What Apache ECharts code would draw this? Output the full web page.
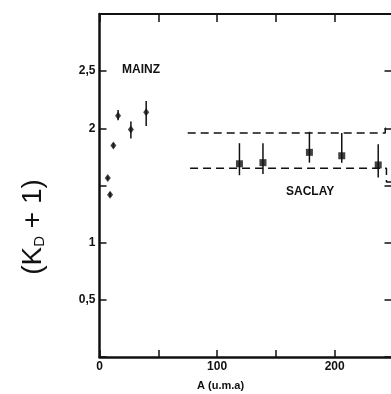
<!DOCTYPE html>
<html>
<head>
<meta charset="utf-8">
<script src="https://cdn.jsdelivr.net/npm/echarts@6/dist/echarts.min.js"></script>
<style>
  html, body { margin: 0; padding: 0; background: #fff; }
  #chart { width: 391px; height: 394px; }
</style>
</head>
<body>
<div id="chart"></div>
<script>
// MAINZ points
const mainzA = [7, 9, 11.8, 15.8, 26.7, 39.7];
const mainzK = [1.565, 1.42, 1.85, 2.11, 1.99, 2.14];
const mainzLow = [1.55, 1.40, 1.83, 2.07, 1.91, 2.02];
const mainzHigh = [1.58, 1.44, 1.87, 2.16, 2.06, 2.24];

// SACLAY points
const saclayA = [119, 139, 178.5, 206, 237];
const saclayK = [1.69, 1.70, 1.79, 1.76, 1.68];
const saclayLow = [1.59, 1.60, 1.70, 1.70, 1.57];
const saclayHigh = [1.87, 1.87, 1.97, 1.96, 1.86];

// dashed reference levels
const upperLine = [[75, 1.96], [243, 1.96], [243, 2.0], [250, 2.0]];
const lowerLine = [[77, 1.65], [244, 1.65], [244, 1.53], [250, 1.53]];

const xTickLabels = { 0: '0', 100: '100', 200: '200' };
const yTickLabels = { 0.5: '0,5', 1: '1', 2: '2', 2.5: '2,5' };

const chart = echarts.init(document.getElementById('chart'));

const errorBars = (xs, lo, hi) => xs.map((x, i) => [x, lo[i], hi[i]]);

function renderErr(params, api) {
  const p1 = api.coord([api.value(0), api.value(1)]);
  const p2 = api.coord([api.value(0), api.value(2)]);
  return {
    type: 'line',
    shape: { x1: p1[0], y1: p1[1], x2: p2[0], y2: p2[1] },
    style: { stroke: '#111', lineWidth: 1.5 }
  };
}

const font = 'Liberation Sans, Arial, sans-serif';

const option = {
  animation: false,
  grid: { left: 99.5, top: 14, width: 294, height: 343, outerBoundsMode: 'none' },
  xAxis: [
    {
      type: 'value', min: 0, max: 250, interval: 50, position: 'bottom',
      axisLine: { onZero: false, lineStyle: { color: '#111', width: 2.5 } },
      axisTick: { inside: true, length: 7, lineStyle: { color: '#111', width: 1.5 } },
      axisLabel: {
        color: '#111', fontSize: 12, fontWeight: 'bold', fontFamily: font, margin: 4,
        formatter: v => xTickLabels[v] || ''
      },
      splitLine: { show: false }
    },
    {
      type: 'value', min: 0, max: 250, interval: 50, position: 'top',
      axisLine: { onZero: false, lineStyle: { color: '#111', width: 2 } },
      axisTick: { inside: true, length: 8, lineStyle: { color: '#111', width: 1.5 } },
      axisLabel: { show: false },
      splitLine: { show: false }
    }
  ],
  yAxis: [
    {
      type: 'value', min: 0, max: 3, interval: 0.5, position: 'left',
      axisLine: { onZero: false, lineStyle: { color: '#111', width: 2.5 } },
      axisTick: { inside: true, length: 7, lineStyle: { color: '#111', width: 1.5 } },
      axisLabel: {
        color: '#111', fontSize: 12, fontWeight: 'bold', fontFamily: font, margin: 4,
        formatter: v => yTickLabels[v] || ''
      },
      splitLine: { show: false }
    },
    {
      type: 'value', min: 0, max: 3, interval: 0.5, position: 'right',
      axisLine: { onZero: false, lineStyle: { color: '#111', width: 2 } },
      axisTick: { inside: true, length: 9, lineStyle: { color: '#111', width: 1.5 } },
      axisLabel: { show: false },
      splitLine: { show: false }
    }
  ],
  graphic: [
    {
      type: 'text', left: 122, top: 64,
      style: { text: 'MAINZ', fill: '#111', font: 'bold 12px ' + font }
    },
    {
      type: 'text', left: 286, top: 186,
      style: { text: 'SACLAY', fill: '#111', font: 'bold 12px ' + font }
    },
    {
      type: 'text', left: 197, top: 380,
      style: { text: 'A (u.m.a)', fill: '#111', font: 'bold 11px ' + font }
    },
    {
      type: 'text', x: 33, y: 227, rotation: Math.PI / 2,
      style: {
        text: '(K{s|D} + 1)',
        rich: { s: { fontSize: 15, fontFamily: font, fill: '#111', verticalAlign: 'bottom', padding: [10, 0, 0, 0] } },
        fill: '#111', font: '28px ' + font, align: 'center', verticalAlign: 'middle'
      }
    }
  ],
  series: [
    {
      type: 'line', data: upperLine, symbol: 'none', silent: true,
      lineStyle: { color: '#111', width: 1.5, type: [8, 5] }
    },
    {
      type: 'line', data: lowerLine, symbol: 'none', silent: true,
      lineStyle: { color: '#111', width: 1.5, type: [8, 5] }
    },
    {
      type: 'custom', renderItem: renderErr,
      data: errorBars(mainzA, mainzLow, mainzHigh)
    },
    {
      type: 'custom', renderItem: renderErr,
      data: errorBars(saclayA, saclayLow, saclayHigh)
    },
    {
      type: 'scatter', symbol: 'diamond', symbolSize: [6, 8],
      itemStyle: { color: '#111' },
      data: mainzA.map((x, i) => [x, mainzK[i]])
    },
    {
      type: 'scatter', symbol: 'rect', symbolSize: 7,
      itemStyle: { color: '#111' },
      data: saclayA.map((x, i) => [x, saclayK[i]])
    }
  ]
};

chart.setOption(option);
</script>
</body>
</html>
